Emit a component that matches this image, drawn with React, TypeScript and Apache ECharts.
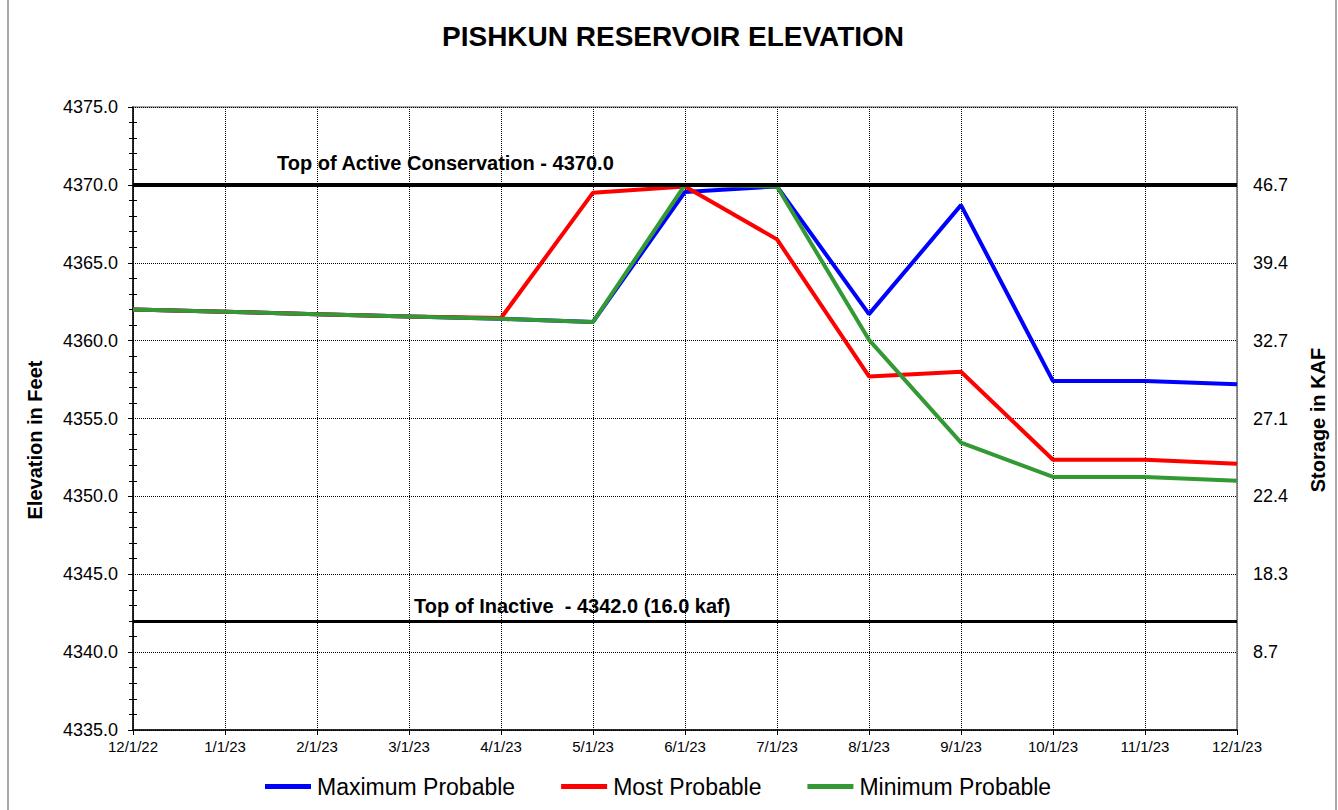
import React, { useEffect, useRef } from "react";
import * as echarts from "echarts";

const categories = ["12/1/22", "1/1/23", "2/1/23", "3/1/23", "4/1/23", "5/1/23", "6/1/23", "7/1/23", "8/1/23", "9/1/23", "10/1/23", "11/1/23", "12/1/23"];
const maxProbable = [4362.0, 4361.85, 4361.7, 4361.55, 4361.4, 4361.2, 4369.55, 4369.9, 4361.7, 4368.7, 4357.4, 4357.4, 4357.2];
const mostProbable = [4362.0, 4361.85, 4361.7, 4361.55, 4361.45, 4369.5, 4369.9, 4366.5, 4357.7, 4358.0, 4352.35, 4352.35, 4352.1];
const minProbable = [4362.0, 4361.85, 4361.7, 4361.55, 4361.4, 4361.2, 4370.0, 4369.9, 4360.05, 4353.45, 4351.25, 4351.25, 4351.0];
const storageElev = [4370, 4365, 4360, 4355, 4350, 4345, 4340];
const storageLabels = ["46.7", "39.4", "32.7", "27.1", "22.4", "18.3", "8.7"];
const topActive = 4370.0;
const topInactive = 4342.0;

const FONT = "'Liberation Sans', Arial, sans-serif";

export default function App() {
  const ref = useRef<HTMLDivElement>(null);
  useEffect(() => {
    if (!ref.current) return;
    const chart = echarts.init(ref.current, null, { renderer: "svg" });
    const yMin = 4335, yMax = 4375;
    const lineSeries = (name: string, data: number[], color: string, extra: any = {}) => ({
      name, type: "line", data, symbol: "none", yAxisIndex: 0,
      lineStyle: { color, width: 4 }, itemStyle: { color }, ...extra,
    });
    chart.setOption({
      animation: false,
      backgroundColor: "#fff",
      textStyle: { fontFamily: FONT },
      title: {
        text: "PISHKUN RESERVOIR ELEVATION", left: 442, top: 22, padding: 0,
        textStyle: { fontFamily: FONT, fontSize: 28, fontWeight: "bold", color: "#000" },
      },
      grid: { left: 133, right: 101, top: 107, bottom: 80, show: true, borderColor: "#8c8c8c", borderWidth: 1.5 },
      legend: {
        left: 265, top: 775, padding: 0, itemWidth: 46, itemHeight: 5, itemGap: 46, icon: "rect",
        textStyle: { fontFamily: FONT, fontSize: 23, color: "#000", padding: [0, 0, 0, 1] },
        data: ["Maximum Probable", "Most Probable", "Minimum Probable"],
      },
      xAxis: {
        type: "category", data: categories, boundaryGap: false,
        axisLine: { lineStyle: { color: "#000", width: 1.5 } },
        axisTick: { show: true, length: 5, lineStyle: { color: "#000" } },
        axisLabel: { fontFamily: FONT, fontSize: 15, color: "#000", margin: 9, interval: 0 },
        splitLine: { show: true, lineStyle: { color: "#000", type: "dotted", width: 1 } },
      },
      yAxis: [
        {
          type: "value", min: yMin, max: yMax, interval: 5, position: "left",
          axisLine: { show: true, lineStyle: { color: "#000", width: 1.5 } },
          axisTick: { show: true, length: 5, lineStyle: { color: "#000" } },
          minorTick: { show: true, splitNumber: 5, length: 4, lineStyle: { color: "#000" } },
          axisLabel: { fontFamily: FONT, fontSize: 18, color: "#000", margin: 15, formatter: (v: number) => v.toFixed(1) },
          splitLine: { show: true, lineStyle: { color: "#000", type: "dotted", width: 1 } },
        },
        {
          type: "value", min: yMin, max: yMax, interval: 5, position: "right",
          axisLine: { show: true, lineStyle: { color: "#8c8c8c", width: 1.5 } },
          axisTick: { show: false },
          axisLabel: {
            fontFamily: FONT, fontSize: 18, color: "#000", margin: 16,
            formatter: (v: number) => {
              const i = storageElev.indexOf(Math.round(v));
              return i >= 0 ? storageLabels[i] : "";
            },
          },
          splitLine: { show: false },
        },
        {
          type: "value", min: yMin, max: yMax, interval: 5, position: "left",
          axisLine: { show: false },
          axisTick: { show: false, inside: true },
          minorTick: { show: true, splitNumber: 5, length: 4, lineStyle: { color: "#000" } },
          axisLabel: { show: false },
          splitLine: { show: false },
        },
      ],
      series: [
        lineSeries("Maximum Probable", maxProbable, "#0000ff", {
          markLine: {
            silent: true, symbol: "none", label: { show: false },
            data: [
              { yAxis: topActive, lineStyle: { color: "#000", width: 4, type: "solid" } },
              { yAxis: topInactive, lineStyle: { color: "#000", width: 3, type: "solid" } },
            ],
          },
        }),
        lineSeries("Most Probable", mostProbable, "#ff0000"),
        lineSeries("Minimum Probable", minProbable, "#339933"),
      ],
      graphic: [
        { type: "rect", shape: { x: 8, y: -2, width: 1328, height: 814 }, style: { fill: "none", stroke: "#8c8c8c", lineWidth: 1.5 }, silent: true },
        { type: "text", left: 277, top: 153, style: { text: "Top of Active Conservation - 4370.0", font: `bold 20px ${FONT}`, fill: "#000" } },
        { type: "text", left: 414, top: 596, style: { text: "Top of Inactive  - 4342.0 (16.0 kaf)", font: `bold 20px ${FONT}`, fill: "#000" } },
        { type: "text", x: 35, y: 440, rotation: Math.PI / 2, style: { text: "Elevation in Feet", font: `bold 20px ${FONT}`, fill: "#000", align: "center", verticalAlign: "middle" } },
        { type: "text", x: 1318, y: 420, rotation: Math.PI / 2, style: { text: "Storage in KAF", font: `bold 20px ${FONT}`, fill: "#000", align: "center", verticalAlign: "middle" } },
      ],
    });
    return () => chart.dispose();
  }, []);
  return <div ref={ref} style={{ position: "absolute", left: 0, top: 0, width: 1338, height: 810 }} />;
}
